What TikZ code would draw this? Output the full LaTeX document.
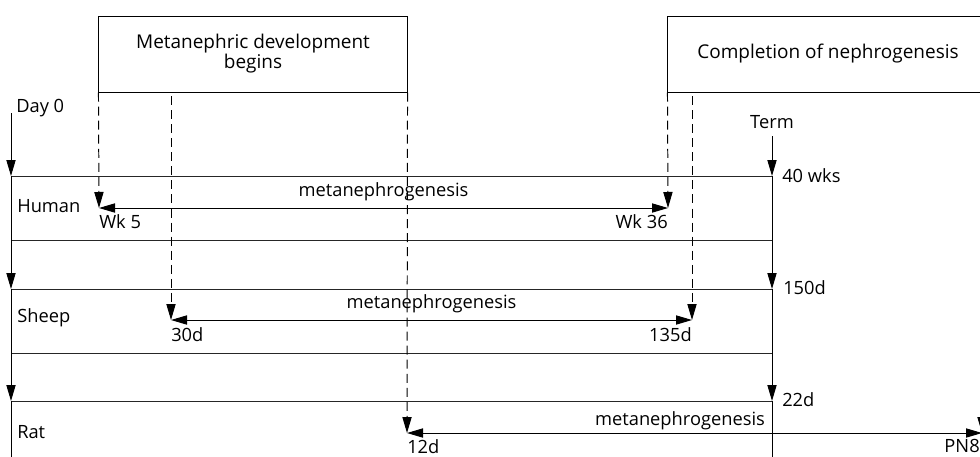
\documentclass[tikz,border=0pt]{standalone}
\usepackage{fontspec}
\setmainfont{Open Sans}
\usepackage{tikz}
\usetikzlibrary{arrows.meta,positioning,calc}

\begin{document}
\begin{tikzpicture}[
    x=0.025cm, y=-0.025cm,
    box/.style={rectangle, draw, line width=0.7pt, minimum height=1.9cm, align=center, font=\fontsize{13.5}{14.2}\selectfont},
    lbl/.style={inner sep=0pt, font=\fontsize{13}{15}\selectfont},
    band/.style={line width=0.7pt, draw=black!85},
    axis/.style={line width=0.7pt, -{Triangle[length=4mm,width=2.3mm]}},
    guide/.style={line width=0.7pt, dash pattern=on 6.4pt off 3.6pt, -{Triangle[length=4mm,width=2.3mm]}},
    span/.style={line width=0.7pt, {Triangle[length=4mm,width=2.3mm]}-{Triangle[length=4mm,width=2.3mm]}},
    >=Stealth
]
    \useasboundingbox (0,0) rectangle (980,456);
    \clip (0,0) rectangle (980,456);

    % event boxes
    \node[box, minimum width=7.7cm] (begin) at (253,54) {Metanephric development\\begins};
    \node[box, minimum width=8.3cm] (compl) at (834,54) {\hspace*{-0.3cm}Completion of nephrogenesis};

    % time axes
    \coordinate (day0) at (11,113);
    \coordinate (term) at (772,136);
    \node[lbl, anchor=west] (day0lbl) at (16,108) {Day 0};
    \node[lbl] (termlbl) at (772,122) {Term};

    % species bands
    \foreach \name/\top/\bot in {human/176/240, sheep/289/353, rat/401/465} {
        \coordinate (\name L) at (11,\top);
        \coordinate (\name T) at (772,\top);
        \coordinate (\name BL) at (11,\bot);
        \coordinate (\name BT) at (772,\bot);
        \draw[band] (\name L) -- (\name T);
        \draw[band] (\name BL) -- (\name BT);
    }
    \node[lbl, anchor=west] (human) at (17,206) {Human};
    \node[lbl, anchor=west] (sheep) at (17,318) {Sheep};
    \node[lbl, anchor=west] (rat) at (17,432) {Rat};

    \draw[axis] (day0) -- (humanL);
    \draw[axis] (humanL) -- (sheepL);
    \draw[axis] (sheepL) -- (ratL);
    \draw[axis] (ratL) -- ++(0,80);
    \draw[axis] (term) -- (humanT);
    \draw[axis] (humanT) -- (sheepT);
    \draw[axis] (sheepT) -- (ratT);
    \draw[line width=0.7pt] (ratT) -- ++(0,80);

    \node[lbl, anchor=west] (wks40) at (782,176) {40 wks};
    \node[lbl, anchor=west] (d150) at (783,288) {150d};
    \node[lbl, anchor=west] (d22) at (782,400) {22d};

    % start and end of metanephrogenesis
    \coordinate (hs) at (99,208);
    \coordinate (he) at (668,208);
    \coordinate (ss) at (171,320);
    \coordinate (se) at (692,320);
    \coordinate (rs) at (407,433);
    \coordinate (re) at (982,433);

    \draw[guide] (begin.south west) -- (hs);
    \draw[guide] (171,96) -- (ss);
    \draw[guide] (begin.south east) -- (rs);
    \draw[guide] (compl.south west) -- (he);
    \draw[guide] (692,96) -- (se);
    \draw[guide] (982,92) -- (re);

    \draw[span] (hs) -- node[lbl, above=5pt] {metanephrogenesis} (he);
    \draw[span] (ss) -- node[lbl, above=5pt] {metanephrogenesis} (se);
    \draw[span] (rs) -- (re);
    \node[lbl] (ratspan) at (680,421) {metanephrogenesis};

    \node[lbl, anchor=north west] (wk5) at (99,214) {Wk 5};
    \node[lbl, anchor=north east] (wk36) at (668,214) {Wk 36};
    \node[lbl, anchor=north west] (d30) at (171,327) {30d};
    \node[lbl, anchor=north east] (d135) at (692,327) {135d};
    \node[lbl, anchor=north west] (d12) at (407,439) {12d};
    \node[lbl, anchor=north east] (pn8) at (980,439) {PN8};
\end{tikzpicture}
\end{document}
